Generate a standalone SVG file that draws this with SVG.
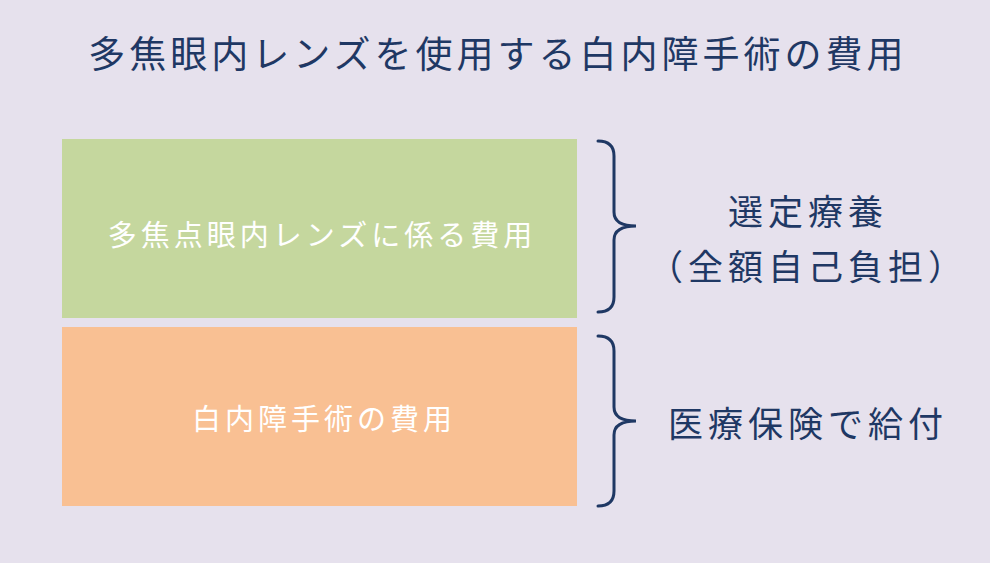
<svg xmlns="http://www.w3.org/2000/svg" width="990" height="563" viewBox="0 0 990 563">
<style>
text{font-family:"Noto Sans CJK JP","Noto Sans",sans-serif;text-anchor:middle}
.t{fill:#1F3864}
.w{fill:#FFFFFF;font-size:29px;letter-spacing:4px}
.r{font-size:35px;letter-spacing:5px}
.b{fill:none;stroke:#1F3864;stroke-width:3;stroke-linecap:round}
</style>
<rect width="990" height="563" fill="#E6E1ED"/>
<text class="t" x="498" y="68" font-size="37" letter-spacing="4">多焦眼内レンズを使用する白内障手術の費用</text>
<g id="n1"><rect x="62" y="139" width="515" height="179" fill="#C5D79E"/><text class="w" x="322" y="246">多焦点眼内レンズに係る費用</text></g>
<g id="n2"><rect x="62" y="327" width="515" height="179" fill="#F9C093"/><text class="w" x="324" y="430">白内障手術の費用</text></g>
<g id="connectors">
<path class="b" d="M598,141 Q614,141 614,156 L614,212 Q614,226 636,226 Q614,226 614,240 L614,297 Q614,312 598,312"/>
<path class="b" d="M598,336 Q614,336 614,351 L614,407 Q614,421 636,421 Q614,421 614,435 L614,491 Q614,506 598,506"/>
</g>
<g id="n3"><text class="t r" x="808" y="225">選定療養</text><text class="t r" x="808" y="280">（全額自己負担）</text></g>
<g id="n4"><text class="t r" x="808" y="437">医療保険で給付</text></g>
</svg>
